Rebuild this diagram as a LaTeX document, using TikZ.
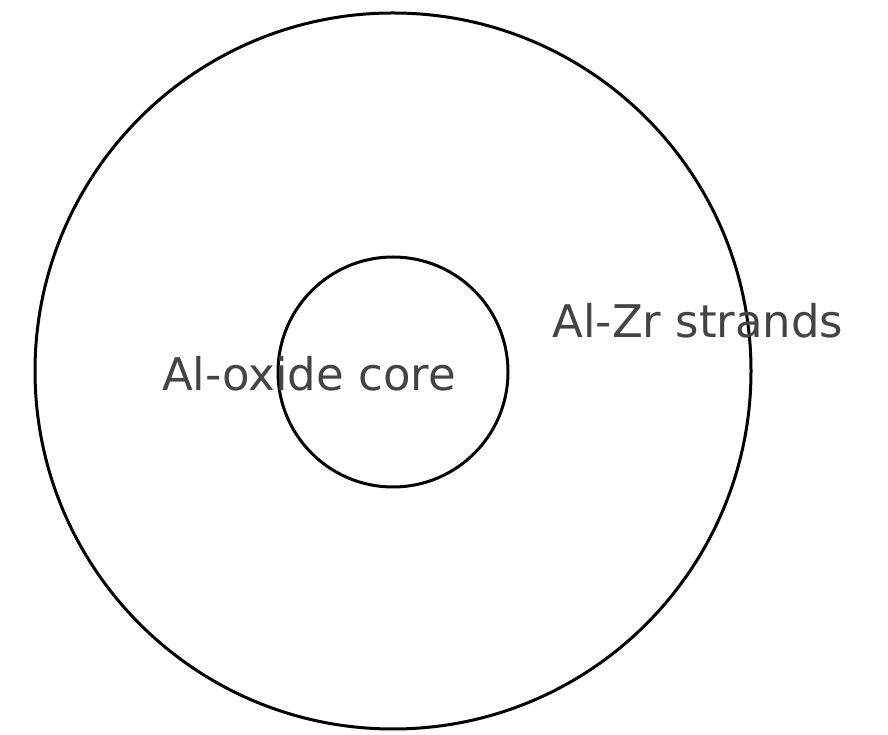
\documentclass[tikz,border=0pt]{standalone}
\usepackage{fontspec}
\setmainfont{DejaVu Sans}
\definecolor{labelgray}{HTML}{444444}
\tikzset{
    ring/.style={draw, circle, line width=3pt, inner sep=0pt},
    layer label/.style={text=labelgray, font=\fontsize{45}{49}\selectfont, inner sep=0pt}
}
\begin{document}
\begin{tikzpicture}[x=1pt, y=1pt]
    \useasboundingbox (0,0) rectangle (888,735);
    \node[ring, minimum size=716pt] (strands) at (393,364) {};
    \node[ring, minimum size=230pt] (core) at (393,363) {};
    \node[layer label] (corelabel) at (309,361) {Al-oxide core};
    \node[layer label] (strandlabel) at (698,414) {Al-Zr strands};
\end{tikzpicture}
\end{document}
